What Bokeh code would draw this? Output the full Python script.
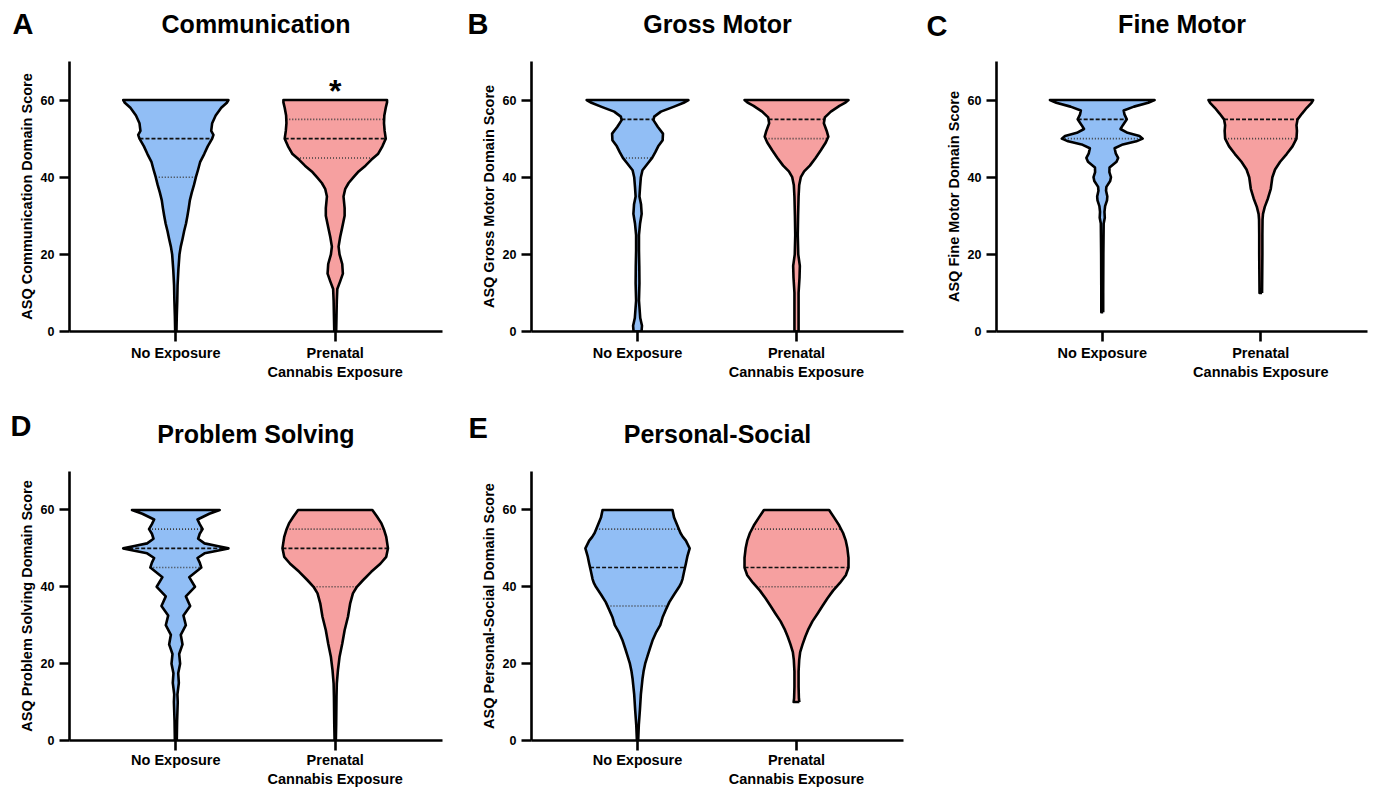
import numpy as np
from bokeh.plotting import figure
from bokeh.models import Range1d, FixedTicker, Label
from bokeh.layouts import row, column
from bokeh.embed import file_html
from bokeh.resources import INLINE

FONT = "Liberation Sans"
BLUE = "#91BEF5"
PINK = "#F6A0A0"

# ---------------- data ----------------
groups = ["No Exposure", "Prenatal\nCannabis Exposure"]
y_ticks = [0, 20, 40, 60]
titles = ["Communication", "Gross Motor", "Fine Motor", "Problem Solving", "Personal-Social"]
letters = ["A", "B", "C", "D", "E"]
y_labels = ["ASQ Communication Domain Score", "ASQ Gross Motor Domain Score",
            "ASQ Fine Motor Domain Score", "ASQ Problem Solving Domain Score",
            "ASQ Personal-Social Domain Score"]
significance = ["*", "", "", "", ""]

# violin outlines: score level and half width (category units)
comm_no_score = [0, 4, 8, 12, 16, 20, 22, 24, 26, 28, 30, 32, 34, 36, 38, 40, 42, 44, 46, 48, 50, 51, 52, 54, 56, 58, 59.3, 60]
comm_no_width = [0.004, 0.006, 0.009, 0.011, 0.016, 0.023, 0.031, 0.042, 0.052, 0.064, 0.073, 0.081, 0.088, 0.10, 0.114, 0.126, 0.14, 0.153, 0.178, 0.20, 0.228, 0.236, 0.222, 0.228, 0.25, 0.285, 0.32, 0.33]
comm_pce_score = [0, 4, 8, 11, 13, 15, 17.5, 20, 22, 24.5, 27, 30, 32, 35, 37, 38.5, 40, 41.5, 43, 44.5, 46, 48, 50, 52, 54, 56, 58, 59.4, 60]
comm_pce_width = [0.006, 0.008, 0.01, 0.013, 0.031, 0.048, 0.044, 0.027, 0.021, 0.031, 0.044, 0.059, 0.059, 0.052, 0.063, 0.084, 0.115, 0.147, 0.19, 0.226, 0.268, 0.296, 0.317, 0.31, 0.306, 0.308, 0.317, 0.325, 0.325]

gross_no_score = [0, 1.5, 3.5, 8, 12.5, 17, 21, 25, 28, 30.5, 33, 35, 37.5, 40, 41.8, 43.5, 45, 46.5, 48, 49.6, 51.3, 53, 54.8, 55.7, 57, 58.3, 59.3, 60]
gross_no_width = [0.025, 0.028, 0.017, 0.009, 0.012, 0.011, 0.009, 0.009, 0.016, 0.026, 0.022, 0.012, 0.016, 0.021, 0.031, 0.063, 0.092, 0.112, 0.13, 0.158, 0.16, 0.128, 0.10, 0.105, 0.147, 0.23, 0.29, 0.32]
gross_pce_score = [0, 5, 10, 14, 17, 20, 25, 30, 35, 38, 40, 41.5, 43, 45, 47, 49, 50.5, 52, 54, 55.5, 57, 58.5, 59.4, 60]
gross_pce_width = [0.013, 0.013, 0.013, 0.019, 0.021, 0.011, 0.008, 0.01, 0.013, 0.017, 0.027, 0.048, 0.084, 0.12, 0.153, 0.184, 0.20, 0.19, 0.172, 0.178, 0.216, 0.27, 0.31, 0.327]

fine_no_score = [5, 10, 20, 28, 29.5, 31, 32.5, 34, 35, 36.5, 37.5, 39, 40, 41.3, 42.5, 44, 45, 46.2, 47.5, 48.5, 49.3, 50, 50.7, 51.5, 52.5, 53.5, 55, 56.3, 57.3, 58.3, 59.3, 60]
fine_no_width = [0.006, 0.006, 0.007, 0.009, 0.016, 0.014, 0.018, 0.03, 0.032, 0.024, 0.026, 0.05, 0.055, 0.045, 0.046, 0.09, 0.10, 0.085, 0.078, 0.13, 0.215, 0.255, 0.235, 0.16, 0.115, 0.13, 0.155, 0.14, 0.135, 0.20, 0.29, 0.33]
fine_pce_score = [10, 15, 20, 25, 29, 30.5, 32.3, 34.5, 37, 40, 42, 44, 46, 48, 50, 52, 53.5, 55, 56.5, 58, 59.3, 60]
fine_pce_width = [0.008, 0.009, 0.01, 0.01, 0.011, 0.014, 0.025, 0.045, 0.063, 0.073, 0.09, 0.122, 0.163, 0.20, 0.225, 0.228, 0.225, 0.232, 0.26, 0.29, 0.32, 0.33]

prob_no_score = [0, 5, 10, 12, 15, 17.5, 20, 22.5, 25, 27.5, 30, 32.5, 35, 37.5, 40, 42.5, 45, 46.3, 47.5, 48.7, 49.4, 50, 50.6, 51.3, 52.5, 53.8, 55, 56.3, 57.5, 59, 60]
prob_no_width = [0.006, 0.008, 0.012, 0.01, 0.019, 0.015, 0.027, 0.021, 0.042, 0.031, 0.063, 0.048, 0.09, 0.063, 0.12, 0.084, 0.16, 0.15, 0.136, 0.18, 0.26, 0.33, 0.26, 0.18, 0.14, 0.15, 0.168, 0.15, 0.136, 0.21, 0.275]
prob_pce_score = [0, 4.3, 11.3, 14.8, 18.3, 21.7, 25.2, 28.7, 32.2, 35.7, 38.3, 40, 41.7, 43.9, 46, 47.8, 50, 53, 55, 56.5, 58.3, 60]
prob_pce_width = [0.004, 0.006, 0.008, 0.01, 0.017, 0.027, 0.044, 0.059, 0.08, 0.094, 0.111, 0.136, 0.174, 0.226, 0.283, 0.32, 0.331, 0.32, 0.305, 0.29, 0.262, 0.233]

soc_no_score = [0, 4, 8, 12, 16, 18, 20, 22, 24, 26, 28, 30, 32, 34, 36, 38, 40, 41, 42, 44, 46, 48, 50, 52, 53, 54, 56, 58, 60]
soc_no_width = [0.004, 0.008, 0.015, 0.021, 0.031, 0.038, 0.048, 0.063, 0.078, 0.094, 0.115, 0.143, 0.157, 0.178, 0.20, 0.23, 0.262, 0.275, 0.283, 0.293, 0.304, 0.314, 0.328, 0.304, 0.285, 0.27, 0.25, 0.23, 0.22]
soc_pce_score = [10, 11, 14, 18, 21, 23, 25, 27, 29, 31, 33, 35, 37, 39, 41, 43, 45, 47.5, 50, 52, 54, 56, 58, 60]
soc_pce_width = [0.018, 0.015, 0.013, 0.013, 0.017, 0.023, 0.038, 0.055, 0.075, 0.10, 0.132, 0.163, 0.195, 0.23, 0.273, 0.31, 0.327, 0.327, 0.32, 0.31, 0.293, 0.268, 0.237, 0.205]

# quartiles (Q1, median, Q3)
comm_no_q = [40, 50, 60]
comm_pce_q = [45, 50, 55]
gross_no_q = [45, 55, 60]
gross_pce_q = [50, 55, 60]
fine_no_q = [50, 55, 60]
fine_pce_q = [50, 55, 60]
prob_no_q = [45, 50, 55]
prob_pce_q = [40, 50, 55]
soc_no_q = [35, 45, 55]
soc_pce_q = [40, 45, 55]

violins = [
    [(comm_no_score, comm_no_width, comm_no_q), (comm_pce_score, comm_pce_width, comm_pce_q)],
    [(gross_no_score, gross_no_width, gross_no_q), (gross_pce_score, gross_pce_width, gross_pce_q)],
    [(fine_no_score, fine_no_width, fine_no_q), (fine_pce_score, fine_pce_width, fine_pce_q)],
    [(prob_no_score, prob_no_width, prob_no_q), (prob_pce_score, prob_pce_width, prob_pce_q)],
    [(soc_no_score, soc_no_width, soc_no_q), (soc_pce_score, soc_pce_width, soc_pce_q)],
]
colors = [BLUE, PINK]

# ---------------- layout (pixels) ----------------
# width, height, border left, right, top, bottom, x-range end,
# letter dx, letter y (in its panel), title y (in its panel), x label standoff
geom = [
    (460, 390, 69, 18, 61, 59, 2.673, -57, 9.6, 38, 3),
    (456, 390, 71, 13, 61, 59, 2.673, -64, 9.6, 38, 3),
    (457, 390, 80, 6, 61, 59, 2.673, -70, 7.6, 38, 3),
    (460, 399, 69, 18, 81, 49, 2.673, -59, 17.6, 38, 1),
    (456, 399, 71, 13, 81, 49, 2.673, -63, 15.6, 38, 1),
]


def add_violin(p, center, ys, ws, quart, color):
    ys = np.asarray(ys, float)
    ws = np.asarray(ws, float)
    xs_o = np.concatenate([center + ws, (center - ws)[::-1]])
    ys_o = np.concatenate([ys, ys[::-1]])
    p.patch(xs_o, ys_o, fill_color=color, line_color=None)
    for k, q in enumerate(quart):
        w = float(np.interp(q, ys, ws))
        if k == 1:
            p.line([center - w, center + w], [q, q], line_color="#111111",
                   line_width=1.6, line_dash="4 2")
        else:
            p.line([center - w, center + w], [q, q], line_color="#3a3a3a",
                   line_width=1.6, line_dash="1 2")
    p.line(np.append(xs_o, xs_o[0]), np.append(ys_o, ys_o[0]), line_color="black",
           line_width=2.6, line_join="round")


def make_panel(i):
    W, H, bl, br, bt, bb, xend, ldx, ly, ty, xstand = geom[i]
    fw = W - bl - br
    p = figure(width=W, height=H, x_range=Range1d(0.333, xend), y_range=Range1d(0, 70),
               output_backend="svg", toolbar_location=None,
               min_border_left=bl, min_border_right=br, min_border_top=bt, min_border_bottom=bb)
    p.outline_line_color = None
    p.grid.visible = False
    p.background_fill_color = "white"
    p.border_fill_color = "white"

    for g in range(2):
        ys, ws, q = violins[i][g]
        add_violin(p, g + 1, ys, ws, q, colors[g])

    for ax in (p.xaxis[0], p.yaxis[0]):
        ax.axis_line_width = 2.6
        ax.axis_line_color = "black"
        ax.major_tick_line_width = 2.6
        ax.major_tick_line_color = "black"
        ax.major_tick_out = 10
        ax.major_tick_in = 0
        ax.minor_tick_line_color = None
        ax.major_label_text_font = FONT
        ax.major_label_text_font_style = "bold"
        ax.major_label_text_color = "black"

    xa = p.xaxis[0]
    xa.ticker = FixedTicker(ticks=[1, 2])
    xa.major_label_overrides = {1: groups[0], 2: groups[1]}
    xa.major_label_text_font_size = "14.5px"
    xa.major_label_standoff = xstand

    ya = p.yaxis[0]
    ya.ticker = FixedTicker(ticks=y_ticks)
    ya.major_label_text_font_size = "12.5px"
    ya.major_label_standoff = 5
    ya.axis_label = y_labels[i]
    ya.axis_label_text_font = FONT
    ya.axis_label_text_font_style = "bold"
    ya.axis_label_text_font_size = "14.5px"
    ya.axis_label_text_color = "black"
    ya.axis_label_standoff = 3

    p.add_layout(Label(x=fw / 2, y=ty, x_units="screen", y_units="screen",
                       text=titles[i], text_align="center", text_baseline="alphabetic",
                       text_font=FONT, text_font_style="bold", text_font_size="25px",
                       text_color="black"), "above")
    p.add_layout(Label(x=ldx, y=ly, x_units="screen", y_units="screen",
                       text=letters[i], text_align="left", text_baseline="alphabetic",
                       text_font=FONT, text_font_style="bold", text_font_size="29px",
                       text_color="black"), "above")
    if significance[i]:
        p.add_layout(Label(x=2, y=62.3, text=significance[i], text_align="center",
                           text_baseline="alphabetic", text_font=FONT,
                           text_font_style="bold", text_font_size="32px", text_color="black"))
    return p


panels = [make_panel(i) for i in range(5)]
layout = column(row(panels[0], panels[1], panels[2]), row(panels[3], panels[4]))

open("out.html", "w").write(file_html(layout, INLINE))
